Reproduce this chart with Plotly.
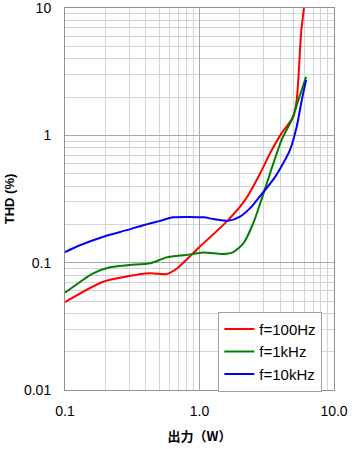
import plotly.graph_objects as go

# Data
x_100 = [0.1, 0.19, 0.30, 0.43, 0.57, 0.68, 1.0, 1.59, 2.18, 2.82, 3.34, 4.08, 4.98, 5.28, 5.5, 5.69, 5.98]
y_100 = [0.049, 0.0705, 0.0785, 0.0824, 0.0815, 0.090, 0.133, 0.21, 0.31, 0.50, 0.72, 1.04, 1.40, 1.89, 3.46, 6.3, 10.0]

x_1k = [0.1, 0.162, 0.216, 0.30, 0.43, 0.57, 0.80, 1.07, 1.50, 1.78, 2.12, 2.51, 2.85, 4.08, 4.85, 5.43, 6.2]
y_1k = [0.058, 0.0824, 0.092, 0.0957, 0.099, 0.110, 0.115, 0.12, 0.117, 0.121, 0.142, 0.204, 0.30, 0.92, 1.32, 1.89, 2.88]

x_10k = [0.1, 0.129, 0.193, 0.288, 0.382, 0.509, 0.639, 1.07, 1.27, 1.64, 2.0, 2.37, 2.8, 3.64, 4.71, 5.28, 5.76, 6.2]
y_10k = [0.121, 0.137, 0.16, 0.18, 0.197, 0.213, 0.227, 0.227, 0.22, 0.213, 0.23, 0.267, 0.33, 0.47, 0.77, 1.17, 1.89, 2.72]

series_names = ["f=100Hz", "f=1kHz", "f=10kHz"]
series_colors = ["#ff0000", "#008000", "#0000ff"]

x_tickvals = [0.1, 1, 10]
x_ticktext = ["0.1", "1.0", "10.0"]
y_tickvals = [0.01, 0.1, 1, 10]
y_ticktext = ["0.01", "0.1", "1", "10"]

fig = go.Figure()
for xs, ys, name, color in zip([x_100, x_1k, x_10k], [y_100, y_1k, y_10k], series_names, series_colors):
    fig.add_trace(go.Scatter(x=xs, y=ys, mode="lines", name=name,
                             line=dict(color=color, width=2, shape="spline", smoothing=0.7)))

font_main = "Liberation Sans, Arial, sans-serif"
fig.update_layout(
    width=355, height=449,
    margin=dict(l=65, r=21, t=8, b=59),
    paper_bgcolor="white", plot_bgcolor="white",
    font=dict(family=font_main, size=14, color="black"),
    legend=dict(x=0.57, y=0.205, xanchor="left", yanchor="top",
                bgcolor="white", bordercolor="#a0a0a0", borderwidth=1,
                font=dict(size=15, family=font_main), tracegroupgap=0,
                itemwidth=30),
    xaxis=dict(type="log", range=[-1, 1], tickvals=x_tickvals, ticktext=x_ticktext,
               showgrid=True, gridcolor="#a8a8a8", gridwidth=1,
               minor=dict(dtick="D1", showgrid=True, gridcolor="#d4d4d4", ticks=""),
               showline=True, linecolor="#909090", mirror=True, zeroline=False,
               ticks="", ticklabelstandoff=8, automargin=False,
               ticklabeloverflow="allow",
               title=dict(text="<b>出力（W）</b>", standoff=14,
                          font=dict(family="Noto Sans CJK JP", size=13))),
    yaxis=dict(type="log", range=[-2, 1], tickvals=y_tickvals, ticktext=y_ticktext,
               showgrid=True, gridcolor="#a8a8a8", gridwidth=1,
               minor=dict(dtick="D1", showgrid=True, gridcolor="#d4d4d4", ticks=""),
               showline=True, linecolor="#909090", mirror=True, zeroline=False,
               ticks="", ticklabelstandoff=10, automargin=False,
               ticklabeloverflow="allow",
               title=dict(text="<b>THD (%)</b>", standoff=6,
                          font=dict(family=font_main, size=13))),
)

fig.write_html("out.html")
